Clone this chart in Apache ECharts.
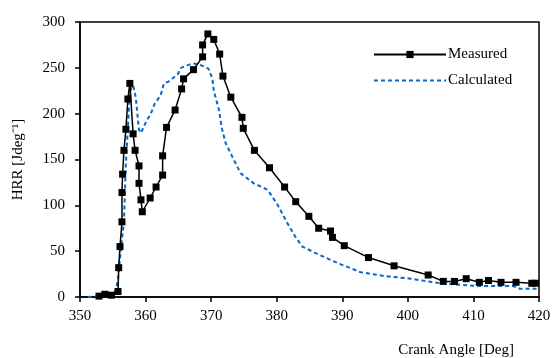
<!DOCTYPE html>
<html><head><meta charset="utf-8">
<script src="https://cdn.jsdelivr.net/npm/echarts@6/dist/echarts.min.js"></script>
<style>html,body{margin:0;padding:0;background:#fff}#c{width:555px;height:358px}</style>
</head><body><div id="c"></div>
<script>
const measuredX = [352.9,353.8,354.8,355.8,355.9,356.1,356.4,356.4,356.5,356.7,357.0,357.3,357.6,358.1,358.4,359.0,359.0,359.3,359.5,360.7,361.6,362.6,362.6,363.2,364.5,365.5,365.8,367.3,368.7,368.7,369.5,370.4,371.3,371.8,373.0,374.7,374.9,376.6,378.9,381.2,382.9,384.9,386.4,388.2,388.5,390.3,394.0,397.9,403.1,405.4,407.1,408.9,410.9,412.3,414.2,416.5,418.9,419.5];
const measuredY = [1,3,2,6,32,55,82,114,134,160,183,216,233,178,160,143,124,106,93,108,120,133,154,185,204,227,238,248,262,275,287,281,265,241,218,196,184,160,141,120,104,88,75,72,65,56,43,34,24,17,17,20,16,18,16,16,15,15];
const calcX = [351.2,353.0,355.0,355.5,355.8,356.2,356.7,357.0,357.5,357.8,358.1,358.5,358.8,359.0,359.3,360.0,360.8,361.4,362.3,362.8,363.5,364.9,365.4,367.2,368.4,369.6,370.2,370.4,371.2,371.6,372.2,373.3,374.5,376.5,378.6,380.1,381.6,382.9,383.9,386.2,389.3,392.8,396.3,400.4,404.9,410.6,416.0,417.1,420.0];
const calcY = [0,1,2,8,20,49,82,146,211,228,231,218,196,182,179,190,200,211,220,233,235,243,250,255,253,249,238,225,204,185,168,152,135,124,117,101,81,65,55,47,37,27,23,20,15,12,12,9,9];
const xTicks = {min:350, max:420, interval:10};
const yTicks = {min:0, max:300, interval:50};

const font = '"Liberation Serif", "Times New Roman", serif';
const chart = echarts.init(document.getElementById('c'), null, {renderer:'canvas'});
chart.setOption({
  animation:false,
  textStyle:{fontFamily:font},
  grid:{left:80, right:16, top:22, bottom:60, show:true, borderColor:'#000', borderWidth:1.5, backgroundColor:'transparent'},
  legend:{
    orient:'vertical', left:368, top:42, itemWidth:72, itemHeight:9, itemGap:11,
    textStyle:{fontFamily:font, fontSize:15, color:'#000', padding:[0,0,0,-3]},
    data:[{name:'Measured'}, {name:'Calculated', itemStyle:{opacity:0}}]
  },
  xAxis:{
    type:'value', min:xTicks.min, max:xTicks.max, interval:xTicks.interval,
    name:'Crank Angle [Deg]', nameLocation:'end', nameGap:-25,
    nameTextStyle:{fontFamily:font, fontSize:15, color:'#000', align:'right', verticalAlign:'top', padding:[46,0,0,0]},
    axisLine:{lineStyle:{color:'#000', width:1.5}},
    axisTick:{inside:false, length:5, lineStyle:{color:'#000', width:1.5}},
    axisLabel:{fontFamily:font, fontSize:15, color:'#000', margin:12},
    splitLine:{show:false}
  },
  yAxis:{
    type:'value', min:yTicks.min, max:yTicks.max, interval:yTicks.interval,
    name:'HRR [Jdeg\u207B\u00B9]', nameLocation:'middle', nameGap:54,
    nameTextStyle:{fontFamily:font, fontSize:15, color:'#000'},
    axisLine:{show:true, lineStyle:{color:'#000', width:1.5}},
    axisTick:{show:true, inside:false, length:5, lineStyle:{color:'#000', width:1.5}},
    axisLabel:{fontFamily:font, fontSize:15, color:'#000', margin:15},
    splitLine:{show:false}
  },
  series:[
    {name:'Calculated', type:'line', symbol:'none', z:2,
     data:calcX.map((x,i)=>[x,calcY[i]]),
     lineStyle:{color:'#0a66c8', width:2, type:[4,3]}, itemStyle:{color:'#0a66c8'}},
    {name:'Measured', type:'line', symbol:'rect', symbolSize:7, z:3,
     data:measuredX.map((x,i)=>[x,measuredY[i]]),
     lineStyle:{color:'#000', width:1.5}, itemStyle:{color:'#000'}}
  ]
});
</script></body></html>
